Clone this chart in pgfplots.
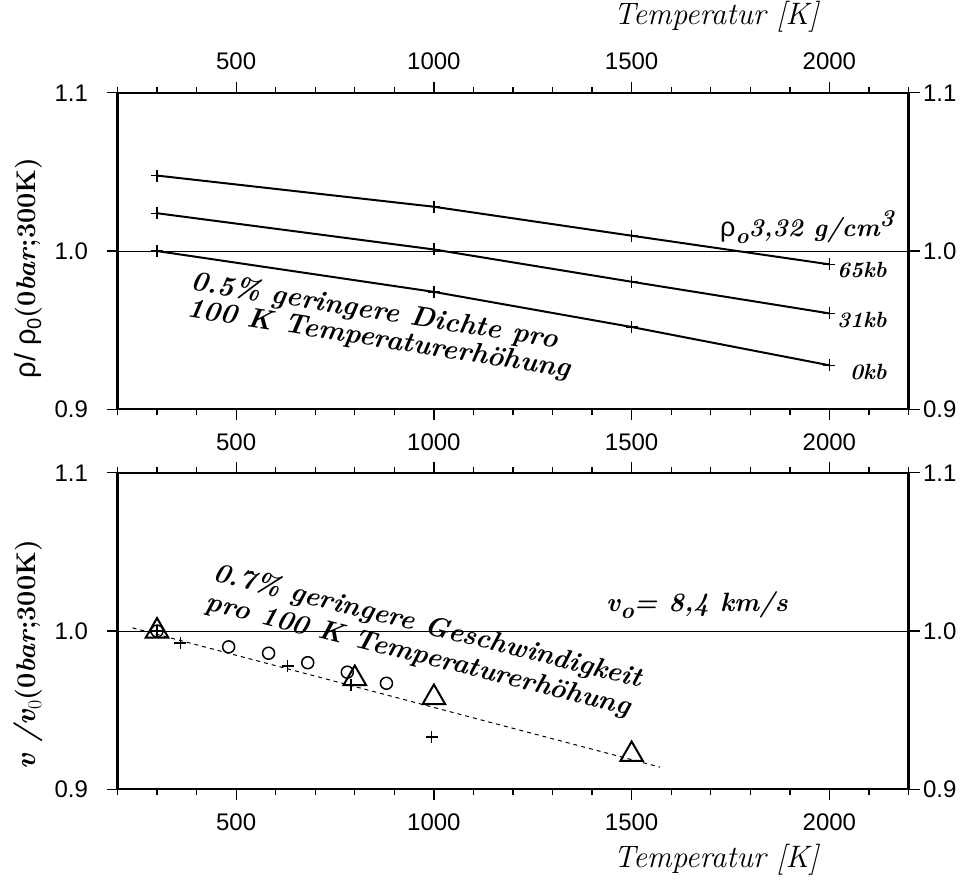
\documentclass[border=0pt]{standalone}
\usepackage{fontspec}
\setsansfont{Liberation Sans}
\usepackage{pgfplots}
\pgfplotsset{compat=1.18}
\newcommand{\fs}[1]{\fontsize{#1}{#1}\selectfont}
\newcommand{\bi}{\rmfamily\bfseries\itshape}

\pgfplotsset{
  base/.style={
    scale only axis, width=791pt, height=316.5pt,
    xmin=200, xmax=2200, ymin=0.9, ymax=1.1,
    xtick={500,1000,1500,2000},
    minor xtick={200,300,...,2200},
    ytick={0.9,1.0,1.1},
    yticklabel style={/pgf/number format/fixed, /pgf/number format/fixed zerofill, /pgf/number format/precision=1},
    xticklabel style={/pgf/number format/1000 sep={}},
    /pgf/number format/assume math mode=true,
    tick label style={font=\sffamily\fs{24}},
    tick align=outside,
    major tick length=11pt, minor tick length=6pt,
    axis line style={line width=2.2pt},
    every tick/.style={black, line width=1.3pt},
    xtick pos=both, ytick pos=both,
    clip=false,
  },
  front/.style={base, xticklabel pos=lower, yticklabel pos=left,
    xticklabel style={anchor=center, yshift=-22pt},
    yticklabel style={anchor=east, xshift=-15pt}},
  back/.style={base, axis line style={draw=none},
    major tick style={draw=none}, minor tick style={draw=none},
    xticklabel pos=upper, yticklabel pos=right,
    xticklabel style={anchor=center, yshift=21pt},
    yticklabel style={anchor=west, xshift=0pt}},
}

\begin{document}
\begin{tikzpicture}
\useasboundingbox (0pt,0pt) rectangle (961pt,-888pt);

% ---------------- top panel ----------------
\begin{axis}[front, at={(117.5pt,-409.3pt)}, anchor=south west]
  \draw[line width=1pt] (axis cs:200,1) -- (axis cs:2200,1);
  \addplot[black, line width=2pt, mark=+, mark size=6pt, mark options={line width=1.4pt}]
    coordinates {(300,1.0477) (1000,1.028) (1500,1.0097) (2000,0.9916)};
  \addplot[black, line width=2pt, mark=+, mark size=6pt, mark options={line width=1.4pt}]
    coordinates {(300,1.0239) (1000,1.001) (1500,0.9806) (2000,0.9606)};
  \addplot[black, line width=2pt, mark=+, mark size=6pt, mark options={line width=1.4pt}]
    coordinates {(300,1.0) (1000,0.9742) (1500,0.952) (2000,0.9278)};
\end{axis}
\begin{axis}[back, at={(117.5pt,-409.3pt)}, anchor=south west]
  \addplot[draw=none] coordinates {(300,1)};
\end{axis}

% ---------------- bottom panel ----------------
\begin{axis}[front, at={(117.5pt,-789.3pt)}, anchor=south west]
  \draw[line width=1pt] (axis cs:200,1) -- (axis cs:2200,1);
  \addplot[black, line width=1pt, dash pattern=on 4pt off 4pt]
    coordinates {(238,1.002) (1572,0.914)};
  \addplot[only marks, mark=triangle, mark size=13pt, mark options={line width=2pt}]
    coordinates {(300,1.0) (800,0.970) (1000,0.958) (1500,0.922)};
  \addplot[only marks, mark=o, mark size=6pt, mark options={line width=1.5pt}]
    coordinates {(300,1.0) (481,0.990) (582,0.986) (681,0.980) (781,0.974) (880,0.967)};
  \addplot[only marks, mark=+, mark size=6pt, mark options={line width=1.5pt}]
    coordinates {(300,1.0) (359,0.9925) (630,0.978) (791,0.966) (994,0.933)};
\end{axis}
\begin{axis}[back, at={(117.5pt,-789.3pt)}, anchor=south west, xticklabels={}]
  \addplot[draw=none] coordinates {(300,1)};
\end{axis}

% ---------------- texts ----------------
\node at (716pt,-17pt) {\rmfamily\itshape\fs{31}Temperatur [K]};
\node at (716pt,-860pt) {\rmfamily\itshape\fs{31}Temperatur [K]};

\node[rotate=90] at (28pt,-268pt) {\sffamily\fs{29}ρ/ ρ\raisebox{-6pt}{\fs{20}0}{\rmfamily\bfseries\fs{27}(0\textit{bar};300K)}};
\node[rotate=90] at (28pt,-655pt) {{\rmfamily\bfseries\itshape\fs{29}v /v}\raisebox{-6pt}{\rmfamily\fs{20}0}{\rmfamily\bfseries\fs{27}(0\textit{bar};300K)}};

\node[rotate=-9, align=left, font=\bi\fontsize{28}{27}\selectfont] at (381pt,-326pt)
  {0.5\% geringere Dichte pro\\100 K Temperaturerhöhung};
\node[rotate=-14, align=left, font=\bi\fontsize{27.5}{30}\selectfont] at (424pt,-641pt)
  {0.7\% geringere Geschwindigkeit\\pro 100 K Temperaturerhöhung};

\node at (697pt,-605pt) {\bi\fs{26.5}v\raisebox{-7pt}{\fs{23}o}= 8,4 km/s};
\node at (807pt,-227pt) {{\sffamily\fs{27}ρ}\raisebox{-7pt}{\bi\fs{22}o}{\bi\fs{25.5}3,32 g/cm}\raisebox{10pt}{\bi\fs{24}3}};

\node[anchor=east] at (890pt,-270pt) {\bi\fs{22}65kb};
\node[anchor=east] at (890pt,-320pt) {\bi\fs{22}31kb};
\node[anchor=east] at (890pt,-372pt) {\bi\fs{22}0kb};
\end{tikzpicture}
\end{document}
